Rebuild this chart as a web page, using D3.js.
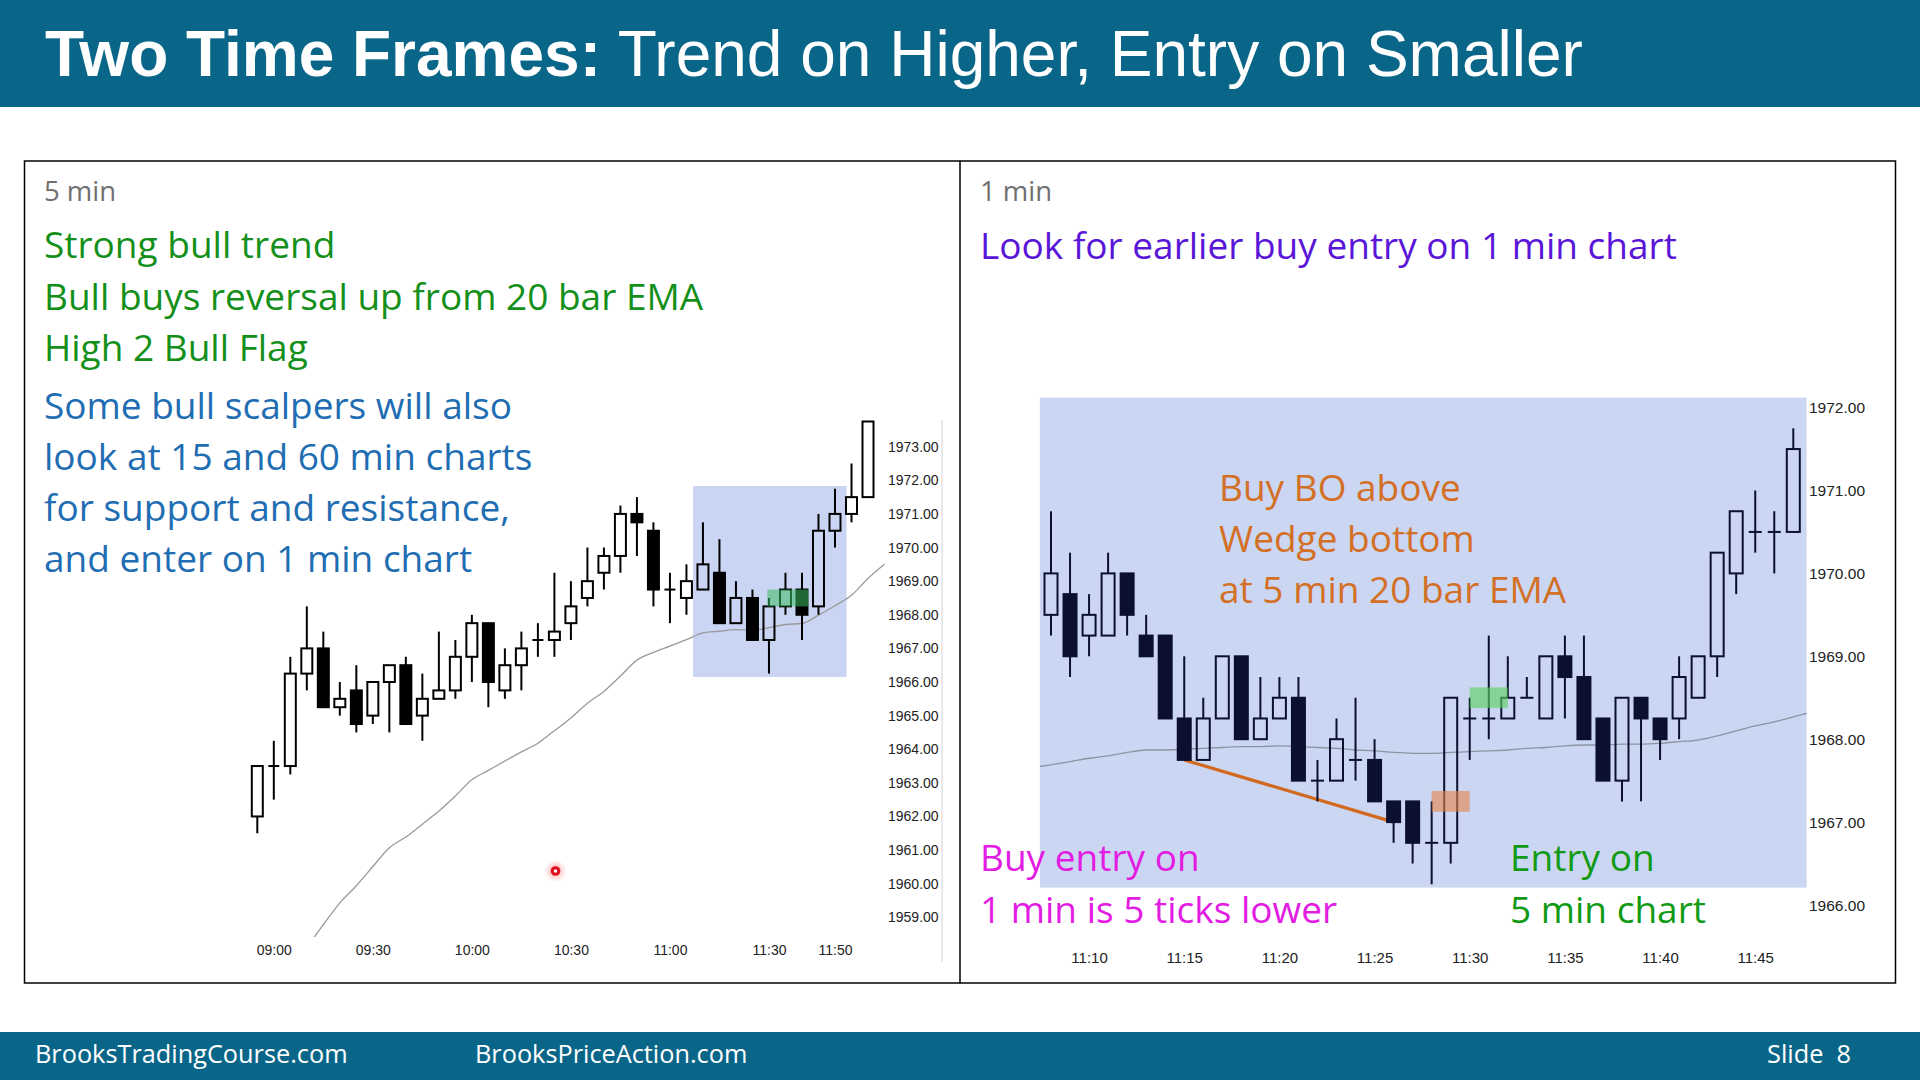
<!DOCTYPE html>
<html><head><meta charset="utf-8">
<script src="https://cdn.jsdelivr.net/npm/d3@7"></script>
<style>
html,body{margin:0;padding:0;background:#fff;}
svg{display:block;}
</style></head><body>
<svg id="slide" width="1920" height="1080"></svg>
<script>
// ---------------- DATA ----------------
const leftTimes = ["08:55","09:00","09:05","09:10","09:15","09:20","09:25","09:30","09:35","09:40",
  "09:45","09:50","09:55","10:00","10:05","10:10","10:15","10:20","10:25","10:30",
  "10:35","10:40","10:45","10:50","10:55","11:00","11:05","11:10","11:15","11:20",
  "11:25","11:30","11:35","11:40","11:45","11:50","11:55","12:00"];
const leftOpen  = [1962.0,1963.5,1963.5,1966.25,1967.0,1965.25,1965.75,1965.0,1966.0,1966.5,
  1965.0,1965.5,1965.75,1966.75,1967.75,1965.75,1966.5,1967.25,1967.25,1967.75,
  1968.5,1969.25,1969.75,1971.0,1970.5,1968.75,1968.5,1968.75,1969.25,1967.75,
  1968.5,1967.25,1968.25,1968.75,1968.25,1970.5,1971.0,1971.5];
const leftHigh  = [1963.5,1964.25,1966.75,1968.25,1967.5,1966.0,1966.5,1966.0,1966.5,1966.75,
  1966.25,1967.5,1967.25,1968.0,1967.75,1967.0,1967.5,1967.75,1969.25,1969.0,
  1970.0,1970.0,1971.25,1971.5,1970.75,1969.25,1969.5,1970.75,1970.25,1969.0,
  1968.75,1968.5,1969.25,1969.25,1971.0,1971.75,1972.5,1973.75];
const leftLow   = [1961.5,1962.5,1963.25,1965.75,1965.25,1965.0,1964.5,1964.75,1964.5,1964.75,
  1964.25,1965.5,1965.5,1966.0,1965.25,1965.5,1965.75,1966.75,1966.75,1967.25,
  1968.25,1968.75,1969.25,1969.75,1968.25,1967.75,1968.0,1968.75,1967.75,1967.75,
  1967.25,1966.25,1968.0,1967.25,1968.0,1970.0,1970.75,1971.5];
const leftClose = [1963.5,1963.5,1966.25,1967.0,1965.25,1965.5,1964.75,1966.0,1966.5,1964.75,
  1965.5,1965.75,1966.75,1967.75,1966.0,1966.5,1967.0,1967.25,1967.5,1968.25,
  1969.0,1969.75,1971.0,1970.75,1968.75,1968.75,1969.0,1969.5,1967.75,1968.5,
  1967.25,1968.25,1968.75,1968.0,1970.5,1971.0,1971.5,1973.75];
// 20-bar EMA (one value per bar, plus the next bar's value where the line runs on)
const leftEMATimes = leftTimes.concat(["12:05"]);
const leftEMA   = [null,null,null,1958.1,1958.78,1959.43,1959.94,1960.51,1961.07,1961.39,
  1961.77,1962.16,1962.61,1963.09,1963.37,1963.65,1963.92,1964.18,1964.55,1964.93,
  1965.37,1965.72,1966.18,1966.65,1966.88,1967.07,1967.26,1967.46,1967.51,1967.56,
  1967.54,1967.62,1967.71,1967.74,1967.99,1968.27,1968.58,1969.08,1969.5];
const leftXTicks = ["09:00","09:30","10:00","10:30","11:00","11:30","11:50"];
const leftYTicks = [1959,1960,1961,1962,1963,1964,1965,1966,1967,1968,1969,1970,1971,1972,1973];

const rightTimes = ["11:08","11:09","11:10","11:11","11:12","11:13","11:14","11:15","11:16","11:17",
  "11:18","11:19","11:20","11:21","11:22","11:23","11:24","11:25","11:26","11:27",
  "11:28","11:29","11:30","11:31","11:32","11:33","11:34","11:35","11:36","11:37",
  "11:38","11:39","11:40","11:41","11:42","11:43","11:44","11:45","11:46","11:47"];
const rightOpen  = [1969.5,1969.75,1969.25,1969.25,1970.0,1969.25,1969.25,1968.25,1967.75,1968.25,
  1969.0,1968.0,1968.25,1968.5,1967.5,1967.5,1967.75,1967.75,1967.25,1967.25,
  1966.75,1966.75,1968.25,1968.25,1968.25,1968.5,1968.25,1969.0,1968.75,1968.25,
  1967.5,1968.5,1968.25,1968.25,1968.5,1969.0,1970.0,1970.5,1970.5,1970.5];
const rightHigh  = [1970.75,1970.25,1969.75,1970.25,1970.0,1969.5,1969.25,1969.0,1968.5,1969.0,
  1969.0,1968.75,1968.75,1968.75,1967.75,1968.25,1968.5,1968.0,1967.25,1967.25,
  1967.25,1968.5,1968.5,1969.25,1969.0,1968.75,1969.0,1969.25,1969.25,1968.25,
  1968.5,1968.5,1968.25,1969.0,1969.0,1970.25,1970.75,1971.0,1970.75,1971.75];
const rightLow   = [1969.25,1968.75,1969.0,1969.25,1969.25,1969.0,1968.25,1967.75,1967.75,1968.25,
  1968.0,1968.0,1968.25,1967.5,1967.25,1967.5,1967.5,1967.25,1966.75,1966.5,
  1966.25,1966.5,1967.75,1968.0,1968.25,1968.5,1968.25,1968.25,1968.0,1967.5,
  1967.25,1967.25,1967.75,1968.0,1968.5,1968.75,1969.75,1970.25,1970.0,1970.5];
const rightClose = [1970.0,1969.0,1969.5,1970.0,1969.5,1969.0,1968.25,1967.75,1968.25,1969.0,
  1968.0,1968.25,1968.5,1967.5,1967.5,1968.0,1967.75,1967.25,1967.0,1966.75,
  1966.75,1968.5,1968.25,1968.25,1968.5,1968.5,1969.0,1968.75,1968.0,1967.5,
  1968.5,1968.25,1968.0,1968.75,1969.0,1970.25,1970.75,1970.5,1970.5,1971.5];
// EMA runs one bar beyond each side of the visible bars (clipped to the zone)
const rightEMATimes = ["11:07"].concat(rightTimes, ["11:48"]);
const rightEMA   = [1967.66,1967.69,1967.73,1967.77,1967.80,1967.84,1967.87,1967.87,1967.88,1967.89,1967.90,
  1967.91,1967.91,1967.92,1967.91,1967.90,1967.89,1967.87,1967.86,1967.84,1967.83,
  1967.83,1967.84,1967.85,1967.86,1967.87,1967.89,1967.90,1967.92,1967.93,1967.93,
  1967.94,1967.94,1967.95,1967.97,1967.99,1968.04,1968.10,1968.16,1968.21,1968.27,1968.33];
const rightXTicks = ["11:10","11:15","11:20","11:25","11:30","11:35","11:40","11:45"];
const rightYTicks = [1966,1967,1968,1969,1970,1971,1972];

// annotation zones (time range, price range)
const leftZone   = {t0:"11:07:00", t1:"11:53:30", p0:1966.15, p1:1971.83};
const leftEntry  = {t0:"11:29:30", t1:"11:42:00", p0:1968.25, p1:1968.75};
const rightZone  = {t0:"11:07:25", t1:"11:47:42", p0:1966.21, p1:1972.12};
const rightEntry5 = {t0:"11:30:00", t1:"11:32:00", p0:1968.375, p1:1968.625};
const rightEntry1 = {t0:"11:28:00", t1:"11:30:00", p0:1967.125, p1:1967.375};
const wedgeLine  = [{t:"11:15", p:1967.75},{t:"11:26", p:1967.0}];

const leftNotesGreen = ["Strong bull trend","Bull buys reversal up from 20 bar EMA","High 2 Bull Flag"];
const leftNotesBlue  = ["Some bull scalpers will also","look at 15 and 60 min charts","for support and resistance,","and enter on 1 min chart"];
const rightNotesOrange = ["Buy BO above","Wedge bottom","at 5 min 20 bar EMA"];
const rightNotesMagenta = ["Buy entry on","1 min is 5 ticks lower"];
const rightNotesGreen = ["Entry on","5 min chart"];

// ---------------- DRAW ----------------
const svg = d3.select("#slide");
const pHM = d3.timeParse("%H:%M");
const pHMS = d3.timeParse("%H:%M:%S");
const TXT = "'Open Sans', 'Noto Sans', sans-serif";
const AX = "'Liberation Sans', Arial, sans-serif";
const defs = svg.append("defs");

svg.append("rect").attr("width",1920).attr("height",1080).attr("fill","#fff");
// header
svg.append("rect").attr("x",0).attr("y",0).attr("width",1920).attr("height",107).attr("fill","#0a6689");
const title = svg.append("text").attr("x",45).attr("y",76).attr("fill","#fff")
  .style("font-family",AX).style("font-size","64px");
title.append("tspan").attr("font-weight","bold").text("Two Time Frames:");
title.append("tspan").text(" Trend on Higher, Entry on Smaller");

// footer
svg.append("rect").attr("x",0).attr("y",1032).attr("width",1920).attr("height",48).attr("fill","#0a6689");
const foot = svg.append("g").attr("fill","#fff").style("font-family",TXT).style("font-size","25.3px");
foot.append("text").attr("x",35).attr("y",1063).text("BrooksTradingCourse.com");
foot.append("text").attr("x",475).attr("y",1063).text("BrooksPriceAction.com");
foot.append("text").attr("x",1851).attr("y",1063).attr("text-anchor","end").style("white-space","pre").text("Slide  8");

// panels
svg.append("rect").attr("x",24.5).attr("y",161).attr("width",1871).attr("height",822)
  .attr("fill","none").attr("stroke","#000").attr("stroke-width",1.5);
svg.append("line").attr("x1",960).attr("x2",960).attr("y1",161).attr("y2",983)
  .attr("stroke","#000").attr("stroke-width",1.5);

function rows(times, o, h, l, c) {
  return times.map((t,i)=>({t:pHM(t), o:o[i], h:h[i], l:l[i], c:c[i]}));
}

function drawCandles(g, data, x, y, bw, col, sw) {
  const cg = g.append("g");
  data.forEach(d=>{
    const cx = x(d.t);
    const top = Math.max(d.o,d.c), bot = Math.min(d.o,d.c);
    const yt = y(top), yb = y(bot);
    if (d.h > top) cg.append("line").attr("x1",cx).attr("x2",cx).attr("y1",y(d.h)).attr("y2",yt)
      .attr("stroke",col).attr("stroke-width",sw);
    if (d.l < bot) cg.append("line").attr("x1",cx).attr("x2",cx).attr("y1",yb).attr("y2",y(d.l))
      .attr("stroke",col).attr("stroke-width",sw);
    if (d.o === d.c) {
      cg.append("line").attr("x1",cx-bw/2).attr("x2",cx+bw/2).attr("y1",yt).attr("y2",yt)
        .attr("stroke",col).attr("stroke-width",sw);
    } else {
      cg.append("rect").attr("x",cx-bw/2).attr("y",yt).attr("width",bw).attr("height",yb-yt)
        .attr("fill", d.c > d.o ? "none" : col).attr("stroke",col).attr("stroke-width",sw);
    }
  });
}

function zoneRect(g, z, x, y, fill) {
  return g.append("rect").attr("x",x(pHMS(z.t0))).attr("y",y(z.p1))
    .attr("width",x(pHMS(z.t1))-x(pHMS(z.t0)))
    .attr("height",y(z.p0)-y(z.p1)).attr("fill",fill);
}

// ---------- LEFT CHART ----------
const L = svg.append("g");
L.append("text").attr("x",44).attr("y",201).attr("fill","#707070")
  .style("font-family",TXT).style("font-size","27.5px").text("5 min");
const xL = d3.scaleTime().domain([pHM("08:55"), pHM("12:00")]).range([257.3, 868]);
const yL = d3.scaleLinear().domain([1959,1973]).range([917.3, 446.7]);
const leftData = rows(leftTimes, leftOpen, leftHigh, leftLow, leftClose);
const leftEMAData = leftEMATimes.map((t,i)=>({t:pHM(t), e:leftEMA[i]})).filter(d=>d.e!==null);

L.append("line").attr("x1",942).attr("x2",942).attr("y1",420).attr("y2",962)
  .attr("stroke","#e2e2e2").attr("stroke-width",1.5);

zoneRect(L, leftZone, xL, yL, "#c9d5f2");

defs.append("clipPath").attr("id","clipL").append("rect")
  .attr("x",245).attr("y",420).attr("width",697).attr("height",517);
L.append("path").datum(leftEMAData)
  .attr("clip-path","url(#clipL)")
  .attr("fill","none").attr("stroke","#9a9a9a").attr("stroke-width",1.3)
  .attr("d", d3.line().x(d=>xL(d.t)).y(d=>yL(d.e)).curve(d3.curveMonotoneX));

drawCandles(L, leftData, xL, yL, 11, "#000", 2);

zoneRect(L, leftEntry, xL, yL, "rgba(60,190,100,0.55)");

L.append("g").attr("transform","translate(0,955)")
  .call(d3.axisBottom(xL).tickValues(leftXTicks.map(pHM)).tickFormat(d3.timeFormat("%H:%M")).tickSize(0))
  .call(g=>g.select(".domain").remove())
  .call(g=>g.selectAll("text").attr("dy",0).attr("y",0).attr("fill","#222").style("font-family",AX).style("font-size","14px"));

L.append("g").selectAll("text").data(leftYTicks).join("text")
  .attr("x",888).attr("y",d=>yL(d)+5).attr("fill","#222")
  .style("font-family",AX).style("font-size","14px").text(d=>d3.format(".2f")(d));

// cursor dot
const rg = defs.append("radialGradient").attr("id","glow");
rg.append("stop").attr("offset","0%").attr("stop-color","rgba(255,80,80,0.6)");
rg.append("stop").attr("offset","100%").attr("stop-color","rgba(255,120,120,0)");
L.append("circle").attr("cx",555.5).attr("cy",871).attr("r",11).attr("fill","url(#glow)");
L.append("circle").attr("cx",555.5).attr("cy",871).attr("r",4.8).attr("fill","#e0101e");
L.append("circle").attr("cx",555.5).attr("cy",871).attr("r",1.7).attr("fill","#fff");

const lt = L.append("g").style("font-family",TXT).style("font-size","37px");
lt.selectAll(".g").data(leftNotesGreen).join("text").attr("x",44).attr("y",(d,i)=>258+i*51.5)
  .attr("fill","#14901a").text(d=>d);
lt.selectAll(".b").data(leftNotesBlue).join("text").attr("x",44).attr("y",(d,i)=>419+i*51)
  .attr("fill","#1f6db2").text(d=>d);

// ---------- RIGHT CHART ----------
const R = svg.append("g");
R.append("text").attr("x",980).attr("y",201).attr("fill","#707070")
  .style("font-family",TXT).style("font-size","27.5px").text("1 min");
const xR = d3.scaleTime().domain([pHM("11:08"), pHM("11:47")]).range([1051, 1793.3]);
const yR = d3.scaleLinear().domain([1966,1972]).range([905, 407.6]);
const rightData = rows(rightTimes, rightOpen, rightHigh, rightLow, rightClose);
const rightEMAData = rightEMATimes.map((t,i)=>({t:pHM(t), e:rightEMA[i]}));

const zR = zoneRect(R, rightZone, xR, yR, "#cad6f2");
defs.append("clipPath").attr("id","clipR").append("rect")
  .attr("x",+zR.attr("x")).attr("y",+zR.attr("y")).attr("width",+zR.attr("width")).attr("height",+zR.attr("height"));

R.append("path").datum(rightEMAData)
  .attr("clip-path","url(#clipR)")
  .attr("fill","none").attr("stroke","#8c93a3").attr("stroke-width",1.3)
  .attr("d", d3.line().x(d=>xR(d.t)).y(d=>yR(d.e)).curve(d3.curveMonotoneX));

R.append("line")
  .attr("x1",xR(pHM(wedgeLine[0].t))).attr("y1",yR(wedgeLine[0].p))
  .attr("x2",xR(pHM(wedgeLine[1].t))).attr("y2",yR(wedgeLine[1].p))
  .attr("stroke","#d2691e").attr("stroke-width",3.2);

drawCandles(R, rightData, xR, yR, 13, "#0b1030", 2);

zoneRect(R, rightEntry5, xR, yR, "rgba(90,210,95,0.62)");
zoneRect(R, rightEntry1, xR, yR, "rgba(230,130,70,0.6)");

R.append("g").attr("transform","translate(0,963)")
  .call(d3.axisBottom(xR).tickValues(rightXTicks.map(pHM)).tickFormat(d3.timeFormat("%H:%M")).tickSize(0))
  .call(g=>g.select(".domain").remove())
  .call(g=>g.selectAll("text").attr("dy",0).attr("y",0).attr("fill","#222").style("font-family",AX).style("font-size","15px"));

R.append("g").selectAll("text").data(rightYTicks).join("text")
  .attr("x",1809).attr("y",d=>yR(d)+5.5).attr("fill","#222")
  .style("font-family",AX).style("font-size","15.5px").text(d=>d3.format(".2f")(d));

const rt = R.append("g").style("font-family",TXT).style("font-size","37px");
rt.append("text").attr("x",980).attr("y",259).attr("fill","#5a16d8").text("Look for earlier buy entry on 1 min chart");
rt.selectAll(".o").data(rightNotesOrange).join("text").attr("x",1219).attr("y",(d,i)=>501+i*51)
  .attr("fill","#d46f26").text(d=>d);
rt.selectAll(".m").data(rightNotesMagenta).join("text").attr("x",980).attr("y",(d,i)=>871+i*51.5)
  .attr("fill","#e31ce3").text(d=>d);
rt.selectAll(".gg").data(rightNotesGreen).join("text").attr("x",1510).attr("y",(d,i)=>871+i*51.5)
  .attr("fill","#119a14").text(d=>d);
</script>
</body></html>
